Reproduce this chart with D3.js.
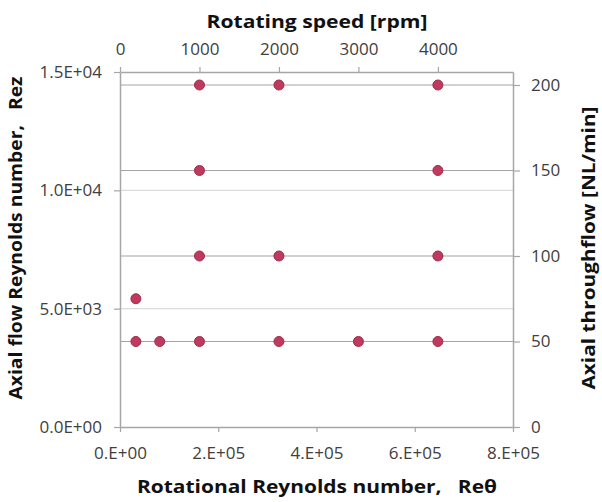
<!DOCTYPE html>
<html>
<head>
<meta charset="utf-8">
<script src="https://cdn.jsdelivr.net/npm/d3@7"></script>
<style>
  body { margin: 0; background: #fff; }
  text { font-family: "Open Sans", Lato, sans-serif; fill: #404040; }
  .title { font-weight: bold; fill: #111; white-space: pre; }
</style>
</head>
<body>
<div id="chart"></div>
<script>
// measured points: rotating speed [rpm] vs axial throughflow [NL/min]
const rpmValues = [1000, 2000, 4000, 1000, 4000, 1000, 2000, 4000, 200, 200, 500, 1000, 2000, 3000, 4000];
const flowValues = [200, 200, 200, 150, 150, 100, 100, 100, 75, 50, 50, 50, 50, 50, 50];

const reThetaTicks = [0, 2e5, 4e5, 6e5, 8e5];
const rezTicks = [0, 5e3, 1e4, 1.5e4];
const rpmTicks = [0, 1000, 2000, 3000, 4000];
const flowTicks = [0, 50, 100, 150, 200];

const draw = () => {
  const dimensions = {
    width: 602,
    height: 502,
    margin: { top: 72, bottom: 75, left: 120, right: 89 }
  };
  const innerW = dimensions.width - dimensions.margin.left - dimensions.margin.right;
  const innerH = dimensions.height - dimensions.margin.top - dimensions.margin.bottom;

  const svg = d3.select('#chart')
    .append('svg')
    .attr('width', dimensions.width)
    .attr('height', dimensions.height);

  const container = svg.append('g')
    .attr('transform', `translate(${dimensions.margin.left}, ${dimensions.margin.top})`);

  const xBottom = d3.scaleLinear().domain([0, 8e5]).range([0, innerW]);
  const xTop = d3.scaleLinear().domain([0, 4945]).range([0, innerW]);
  const yLeft = d3.scaleLinear().domain([0, 1.5e4]).range([innerH, 0]);
  const yRight = d3.scaleLinear().domain([0, 207.6]).range([innerH, 0]);

  const sci = (digits) => (d) => {
    const [m, e] = d.toExponential(digits).split('e');
    const exp = Math.abs(+e).toString().padStart(2, '0');
    const mant = digits === 0 ? m + '.' : m;
    return `${mant}E${+e < 0 ? '-' : '+'}${exp}`;
  };

  const axisColor = '#a6a6a6';

  // left axis gridlines (light)
  container.append('g')
    .selectAll('line')
    .data(rezTicks.filter((d) => d > 0 && d < 1.5e4))
    .join('line')
    .attr('x1', 0).attr('x2', innerW)
    .attr('y1', (d) => yLeft(d)).attr('y2', (d) => yLeft(d))
    .attr('stroke', '#dcdcdc')
    .attr('stroke-width', 1.2);

  // right axis gridlines
  container.append('g')
    .selectAll('line')
    .data(flowTicks.filter((d) => d > 0))
    .join('line')
    .attr('x1', 0).attr('x2', innerW)
    .attr('y1', (d) => yRight(d)).attr('y2', (d) => yRight(d))
    .attr('stroke', axisColor)
    .attr('stroke-width', 1.2);

  const styleAxis = (g) => {
    g.select('.domain').attr('stroke', axisColor).attr('stroke-width', 1.5);
    g.selectAll('.tick line').attr('stroke', axisColor).attr('stroke-width', 1.2);
    g.selectAll('.tick text')
      .style('font-size', '17px')
      .style('font-family', '"Open Sans", Lato, sans-serif')
      .attr('fill', '#404040');
  };

  container.append('g')
    .attr('transform', `translate(0, ${innerH})`)
    .call(d3.axisBottom(xBottom).tickValues(reThetaTicks).tickFormat(sci(0)).tickSize(5).tickSizeOuter(0).tickPadding(15))
    .call(styleAxis);

  container.append('g')
    .call(d3.axisTop(xTop).tickValues(rpmTicks).tickFormat(d3.format('d')).tickSize(5).tickSizeOuter(0).tickPadding(12))
    .call(styleAxis);

  container.append('g')
    .call(d3.axisLeft(yLeft).tickValues(rezTicks).tickFormat(sci(1)).tickSize(6).tickSizeOuter(0).tickPadding(12))
    .call(styleAxis);

  container.append('g')
    .attr('transform', `translate(${innerW}, 0)`)
    .call(d3.axisRight(yRight).tickValues(flowTicks).tickFormat(d3.format('d')).tickSize(7).tickSizeOuter(0).tickPadding(11))
    .call(styleAxis);

  // markers
  container.append('g')
    .selectAll('circle')
    .data(rpmValues.map((r, i) => ({ rpm: r, flow: flowValues[i] })))
    .join('circle')
    .attr('cx', (d) => xTop(d.rpm))
    .attr('cy', (d) => yRight(d.flow))
    .attr('r', 5)
    .attr('fill', '#c0395f')
    .attr('stroke', '#9a2d4c')
    .attr('stroke-width', 1);

  // titles, stretched to the widths they take in the original
  const titles = [
    { text: 'Rotating speed [rpm]', x: 317, y: 28, rot: 0, len: 221 },
    { text: 'Rotational Reynolds number,   Reθ', x: 317, y: 493, rot: 0, len: 360 },
    { text: 'Axial flow Reynolds number,   Rez', x: 22, y: 238, rot: -90, len: 323 },
    { text: 'Axial throughflow [NL/min]', x: 595, y: 248, rot: -90, len: 283 }
  ];

  svg.append('g')
    .selectAll('text')
    .data(titles)
    .join('text')
    .attr('class', 'title')
    .attr('transform', (d) => `translate(${d.x}, ${d.y}) rotate(${d.rot})`)
    .attr('text-anchor', 'middle')
    .attr('textLength', (d) => d.len)
    .attr('lengthAdjust', 'spacingAndGlyphs')
    .style('font-size', '18px')
    .text((d) => d.text);
};

draw();
</script>
</body>
</html>
